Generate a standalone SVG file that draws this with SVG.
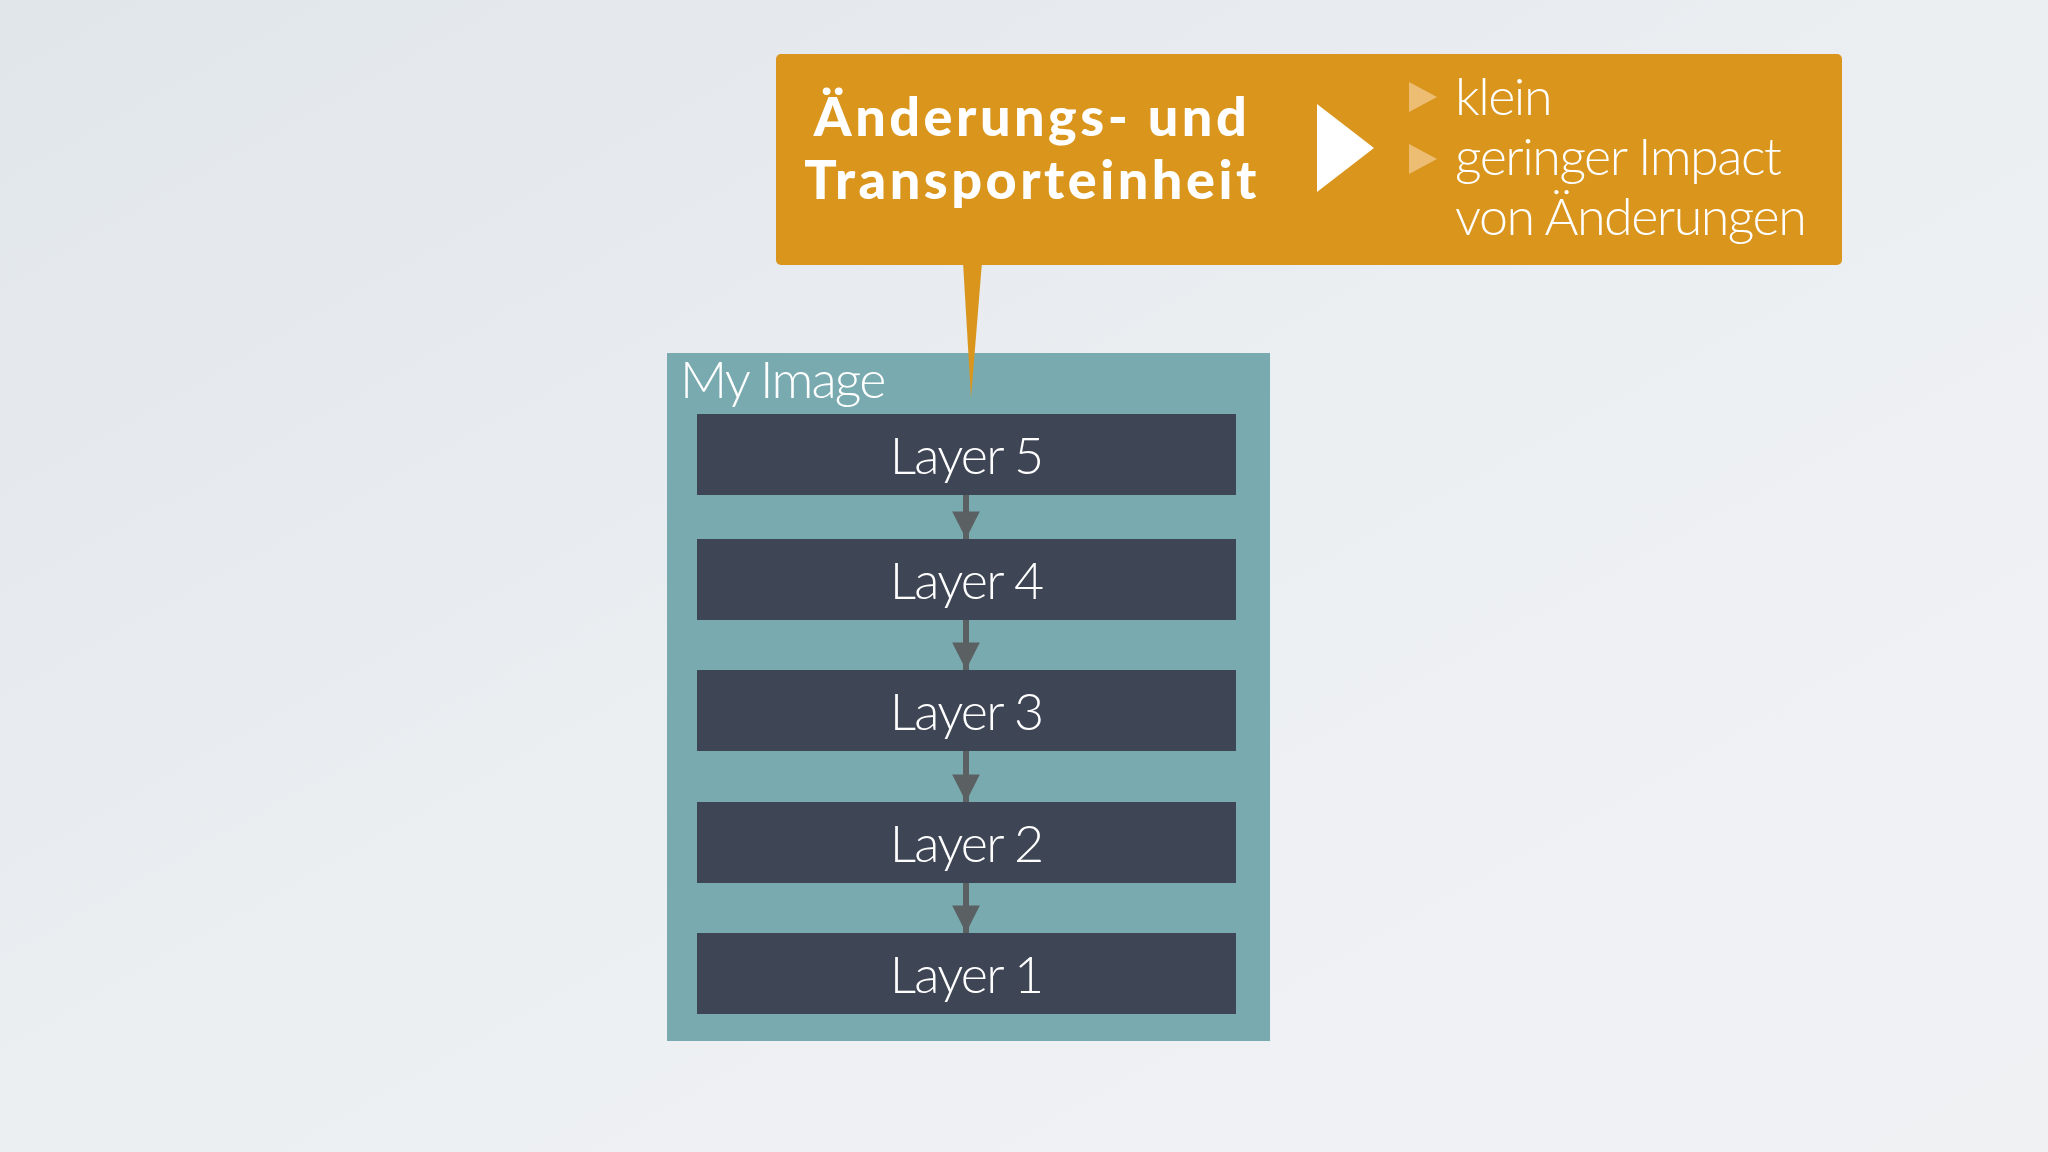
<svg xmlns="http://www.w3.org/2000/svg" width="2048" height="1152" viewBox="0 0 2048 1152">
<defs>
<linearGradient id="bg" x1="0" y1="0" x2="1" y2="1">
<stop offset="0" stop-color="#e1e6eb"/>
<stop offset="0.6" stop-color="#edf0f3"/>
<stop offset="1" stop-color="#f0f1f3"/>
</linearGradient>
<marker id="ah" viewBox="0 0 10 10" refX="10" refY="5" markerWidth="4.6" markerHeight="4.6" markerUnits="strokeWidth" orient="auto">
<path d="M0,0 L10,5 L0,10 Z" fill="#5b6163"/>
</marker>
<style>
.layer{fill:#3e4555}
.lt{font-family:Lato,"Open Sans",sans-serif;font-weight:300;fill:#ffffff;font-size:52px;letter-spacing:-1.8px;text-anchor:middle}
.bt{font-family:Lato,"Open Sans",sans-serif;font-weight:300;fill:#ffffff;font-size:52px;letter-spacing:-1.5px}
.tt{font-family:Lato,"Open Sans",sans-serif;font-weight:900;fill:#ffffff;font-size:54px;letter-spacing:3.5px;text-anchor:middle}
.conn{stroke:#5b6163;stroke-width:6;fill:none}
.bul{fill:#eebd74}
</style>
</defs>
<rect width="2048" height="1152" fill="url(#bg)"/>
<g id="my-image">
<rect x="667" y="353" width="603" height="688" fill="#78aab0"/>
<text class="bt" x="680" y="398" style="letter-spacing:-1.8px">My Image</text>
</g>
<g id="callout">
<path d="M963,262 L982,262 L971,398 Z" fill="#d9951c"/>
<rect x="776" y="54" width="1066" height="211" rx="5" fill="#d9951c"/>
<text class="tt" x="1032" y="136">Änderungs- und</text>
<text class="tt" x="1032" y="199">Transporteinheit</text>
<path d="M1317,104 L1374,148 L1317,192 Z" fill="#ffffff"/>
<path class="bul" d="M1409,82 L1437,97 L1409,112 Z"/>
<path class="bul" d="M1409,144 L1437,159 L1409,174 Z"/>
<text class="bt" x="1455" y="115">klein</text>
<text class="bt" x="1455" y="175">geringer Impact</text>
<text class="bt" x="1455" y="235">von Änderungen</text>
</g>
<g id="layer5"><rect class="layer" x="697" y="414" width="539" height="81"/><text class="lt" x="966" y="474">Layer 5</text></g>
<g id="layer4"><rect class="layer" x="697" y="539" width="539" height="81"/><text class="lt" x="966" y="599">Layer 4</text></g>
<g id="layer3"><rect class="layer" x="697" y="670" width="539" height="81"/><text class="lt" x="966" y="730">Layer 3</text></g>
<g id="layer2"><rect class="layer" x="697" y="802" width="539" height="81"/><text class="lt" x="966" y="862">Layer 2</text></g>
<g id="layer1"><rect class="layer" x="697" y="933" width="539" height="81"/><text class="lt" x="966" y="993">Layer 1</text></g>
<g id="connectors">
<line class="conn" x1="966" y1="495" x2="966" y2="539" marker-end="url(#ah)"/>
<line class="conn" x1="966" y1="620" x2="966" y2="670" marker-end="url(#ah)"/>
<line class="conn" x1="966" y1="751" x2="966" y2="802" marker-end="url(#ah)"/>
<line class="conn" x1="966" y1="883" x2="966" y2="933" marker-end="url(#ah)"/>
</g>
</svg>
